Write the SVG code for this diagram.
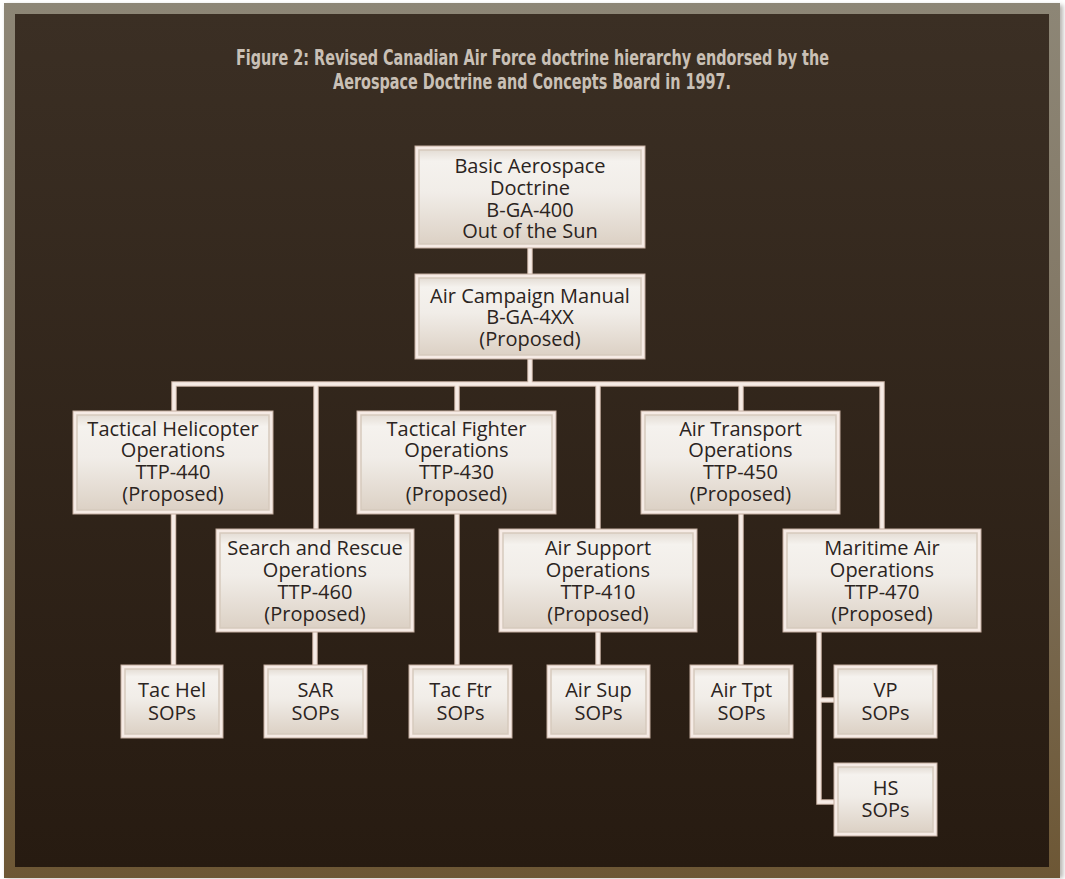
<svg xmlns="http://www.w3.org/2000/svg" width="1065" height="879" viewBox="0 0 1065 879">
<defs>
<linearGradient id="frameG" x1="0" y1="0" x2="0" y2="1">
<stop offset="0" stop-color="#8d8676"/>
<stop offset="0.5" stop-color="#7f7360"/>
<stop offset="1" stop-color="#6d5735"/>
</linearGradient>
<linearGradient id="bgG" x1="0" y1="0" x2="0" y2="1">
<stop offset="0" stop-color="#3b2f24"/>
<stop offset="1" stop-color="#271b11"/>
</linearGradient>
<linearGradient id="boxG" x1="0" y1="0" x2="0" y2="1">
<stop offset="0" stop-color="#e4ddd5"/>
<stop offset="0.12" stop-color="#f5f2ee"/>
<stop offset="0.45" stop-color="#f1ede8"/>
<stop offset="1" stop-color="#dcd1c5"/>
</linearGradient>
<filter id="blur" x="-5%" y="-5%" width="110%" height="110%">
<feGaussianBlur stdDeviation="2"/>
</filter>
</defs>
<style>
.fr{fill:#f6ebe5;stroke:#c4ada0;stroke-width:1}
.in{fill:url(#boxG);stroke:#d6cabd;stroke-width:1.5}
.t{font-family:"Open Sans","Noto Sans","DejaVu Sans",sans-serif;font-size:20px;fill:#2b2421;text-anchor:middle}
.title{font-family:"DejaVu Sans Condensed","Liberation Sans Narrow","DejaVu Sans",sans-serif;font-weight:bold;font-size:20.5px;fill:#c9c0b6;text-anchor:middle}
.c1{fill:none;stroke:#cdb6a9;stroke-width:5.5}
.c2{fill:none;stroke:#f6ebe5;stroke-width:3.5}
</style>
<rect x="0" y="0" width="1065" height="879" fill="#ffffff"/>
<rect x="6" y="5" width="1057" height="873" fill="#6f6a63" opacity="0.5" filter="url(#blur)"/>
<rect x="4" y="3" width="1056" height="875" fill="url(#frameG)"/>
<rect x="15" y="14" width="1034" height="853" fill="url(#bgG)"/>
<text class="title" x="532.5" y="65" textLength="593" lengthAdjust="spacingAndGlyphs">Figure 2: Revised Canadian Air Force doctrine hierarchy endorsed by the</text>
<text class="title" x="532" y="89" textLength="398" lengthAdjust="spacingAndGlyphs">Aerospace Doctrine and Concepts Board in 1997.</text>
<g id="connectors">
<path class="c1" d="M530 248V274M530 359V384M174 411V384H882V529M316 384V529M457 384V411M598 384V529M741 384V411M173.5 514V665M315 632V665M457 514V665M598 632V665M741 514V665M819 632V802H834M819 700H834"/>
<path class="c2" d="M530 248V274M530 359V384M174 411V384H882V529M316 384V529M457 384V411M598 384V529M741 384V411M173.5 514V665M315 632V665M457 514V665M598 632V665M741 514V665M819 632V802H834M819 700H834"/>
</g>
<g id="basic">
<rect class="fr" x="415" y="146" width="230" height="102"/><rect class="in" x="419" y="150" width="222" height="94"/>
<text class="t" x="530" y="173">Basic Aerospace</text><text class="t" x="530" y="195">Doctrine</text><text class="t" x="530" y="217">B-GA-400</text><text class="t" x="530" y="238">Out of the Sun</text>
</g>
<g id="campaign">
<rect class="fr" x="415" y="274" width="230" height="85"/><rect class="in" x="419" y="278" width="222" height="77"/>
<text class="t" x="530" y="303">Air Campaign Manual</text><text class="t" x="530" y="324">B-GA-4XX</text><text class="t" x="530" y="346">(Proposed)</text>
</g>
<g id="tachel">
<rect class="fr" x="73" y="411" width="200" height="103"/><rect class="in" x="77" y="415" width="192" height="95"/>
<text class="t" x="173" y="436">Tactical Helicopter</text><text class="t" x="173" y="457">Operations</text><text class="t" x="173" y="479">TTP-440</text><text class="t" x="173" y="501">(Proposed)</text>
</g>
<g id="tacftr">
<rect class="fr" x="357" y="411" width="199" height="103"/><rect class="in" x="361" y="415" width="191" height="95"/>
<text class="t" x="456.5" y="436">Tactical Fighter</text><text class="t" x="456.5" y="457">Operations</text><text class="t" x="456.5" y="479">TTP-430</text><text class="t" x="456.5" y="501">(Proposed)</text>
</g>
<g id="airtpt">
<rect class="fr" x="641" y="411" width="199" height="103"/><rect class="in" x="645" y="415" width="191" height="95"/>
<text class="t" x="740.5" y="436">Air Transport</text><text class="t" x="740.5" y="457">Operations</text><text class="t" x="740.5" y="479">TTP-450</text><text class="t" x="740.5" y="501">(Proposed)</text>
</g>
<g id="sar">
<rect class="fr" x="216" y="529" width="198" height="103"/><rect class="in" x="220" y="533" width="190" height="95"/>
<text class="t" x="315" y="555">Search and Rescue</text><text class="t" x="315" y="577">Operations</text><text class="t" x="315" y="599">TTP-460</text><text class="t" x="315" y="621">(Proposed)</text>
</g>
<g id="airsup">
<rect class="fr" x="499" y="529" width="198" height="103"/><rect class="in" x="503" y="533" width="190" height="95"/>
<text class="t" x="598" y="555">Air Support</text><text class="t" x="598" y="577">Operations</text><text class="t" x="598" y="599">TTP-410</text><text class="t" x="598" y="621">(Proposed)</text>
</g>
<g id="maritime">
<rect class="fr" x="783" y="529" width="198" height="103"/><rect class="in" x="787" y="533" width="190" height="95"/>
<text class="t" x="882" y="555">Maritime Air</text><text class="t" x="882" y="577">Operations</text><text class="t" x="882" y="599">TTP-470</text><text class="t" x="882" y="621">(Proposed)</text>
</g>
<g id="tachelsops">
<rect class="fr" x="121" y="665" width="102" height="73"/><rect class="in" x="125" y="669" width="94" height="65"/>
<text class="t" x="172" y="697">Tac Hel</text><text class="t" x="172" y="720">SOPs</text>
</g>
<g id="sarsops">
<rect class="fr" x="264" y="665" width="103" height="73"/><rect class="in" x="268" y="669" width="95" height="65"/>
<text class="t" x="315.5" y="697">SAR</text><text class="t" x="315.5" y="720">SOPs</text>
</g>
<g id="tacftrsops">
<rect class="fr" x="409" y="665" width="103" height="73"/><rect class="in" x="413" y="669" width="95" height="65"/>
<text class="t" x="460.5" y="697">Tac Ftr</text><text class="t" x="460.5" y="720">SOPs</text>
</g>
<g id="airsupsops">
<rect class="fr" x="547" y="665" width="103" height="73"/><rect class="in" x="551" y="669" width="95" height="65"/>
<text class="t" x="598.5" y="697">Air Sup</text><text class="t" x="598.5" y="720">SOPs</text>
</g>
<g id="airtptsops">
<rect class="fr" x="690" y="665" width="103" height="73"/><rect class="in" x="694" y="669" width="95" height="65"/>
<text class="t" x="741.5" y="697">Air Tpt</text><text class="t" x="741.5" y="720">SOPs</text>
</g>
<g id="vpsops">
<rect class="fr" x="834" y="665" width="103" height="73"/><rect class="in" x="838" y="669" width="95" height="65"/>
<text class="t" x="885.5" y="697">VP</text><text class="t" x="885.5" y="720">SOPs</text>
</g>
<g id="hssops">
<rect class="fr" x="834" y="763" width="103" height="73"/><rect class="in" x="838" y="767" width="95" height="65"/>
<text class="t" x="885.5" y="795">HS</text><text class="t" x="885.5" y="817">SOPs</text>
</g>
</svg>
